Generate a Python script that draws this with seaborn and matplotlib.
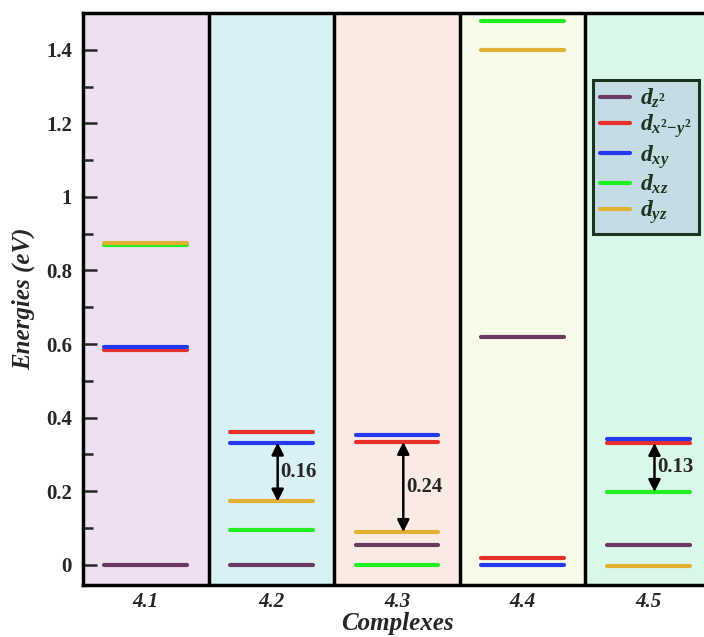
import numpy as np
import pandas as pd
import seaborn as sns
import matplotlib.pyplot as plt
from matplotlib.ticker import MultipleLocator, FuncFormatter

# datos
complexes = ["4.1", "4.2", "4.3", "4.4", "4.5"]
orbitals = ["dz2", "dx2y2", "dxy", "dxz", "dyz"]
orbital_labels = [r"$d_{z^2}$", r"$d_{x^2{-}y^2}$", r"$d_{xy}$", r"$d_{xz}$", r"$d_{yz}$"]
e_dz2 = [0.0, 0.0, 0.055, 0.62, 0.054]
e_dx2y2 = [0.583, 0.362, 0.334, 0.018, 0.331]
e_dxy = [0.592, 0.332, 0.353, 0.0, 0.342]
e_dxz = [0.869, 0.095, 0.0, 1.479, 0.198]
e_dyz = [0.876, 0.172, 0.089, 1.40, -0.004]

# gaps marcados con flechas
gap_complex = ["4.2", "4.3", "4.5"]
gap_upper = ["dxy", "dx2y2", "dx2y2"]
gap_lower = ["dyz", "dyz", "dxz"]
gap_labels = ["0.16", "0.24", "0.13"]

colors = ["#6b3a63", "#e8302a", "#2438ee", "#22ee22", "#e2b032"]
panel_colors = ["#eee0f2", "#d9f1f4", "#f9ebe4", "#f7fbe7", "#d9f8ea"]

energies = {"dz2": e_dz2, "dx2y2": e_dx2y2, "dxy": e_dxy, "dxz": e_dxz, "dyz": e_dyz}
half = 0.33

rows = []
for orb, lab in zip(orbitals, orbital_labels):
    for i, c in enumerate(complexes):
        for dx in (-half, half):
            rows.append({"x": i + dx, "E": energies[orb][i], "orbital": lab, "complex": c})
df = pd.DataFrame(rows)

sns.set_theme(style="ticks")
plt.rcParams["font.family"] = ["Liberation Serif", "DejaVu Serif"]
plt.rcParams["font.weight"] = "bold"
plt.rcParams["mathtext.fontset"] = "custom"
plt.rcParams["mathtext.it"] = "Liberation Serif:bold:italic"
plt.rcParams["mathtext.rm"] = "Liberation Serif:bold"
plt.rcParams["mathtext.bf"] = "Liberation Serif:bold"

fig = plt.figure(figsize=(7.04, 6.37), dpi=100)
ax = fig.add_axes([83 / 704, 52 / 637, 628 / 704, 572 / 637])

for i, pc in enumerate(panel_colors):
    ax.axvspan(i - 0.5, i + 0.5, color=pc, zorder=0, lw=0)
for i in range(len(complexes) - 1):
    ax.axvline(i + 0.5, color="black", lw=2.5, zorder=1)

sns.lineplot(data=df, x="x", y="E", hue="orbital", units="complex", estimator=None,
             palette=colors, lw=3, ax=ax, zorder=3)

for c, up, lo, txt in zip(gap_complex, gap_upper, gap_lower, gap_labels):
    i = complexes.index(c)
    top = energies[up][i]
    bot = energies[lo][i]
    xa = i + 0.05
    ax.annotate("", xy=(xa, bot), xytext=(xa, top),
                arrowprops=dict(arrowstyle="<|-|>", color="black", lw=1.8,
                                shrinkA=0, shrinkB=0, mutation_scale=18), zorder=4)
    ax.text(xa + 0.02, (top + bot) / 2, txt, ha="left", va="center",
            fontsize=15, fontweight="bold", zorder=5)

ax.set_xlim(-0.5, 4.5)
ax.set_ylim(-0.055, 1.5)
ax.set_xticks(range(len(complexes)))
ax.set_xticklabels(complexes, fontsize=15, fontweight="bold", fontstyle="italic")
ax.tick_params(axis="x", length=0, pad=5)
ax.yaxis.set_major_locator(MultipleLocator(0.2))
ax.yaxis.set_minor_locator(MultipleLocator(0.1))
ax.yaxis.set_major_formatter(FuncFormatter(lambda v, p: f"{v:g}" if abs(v) > 1e-9 else "0"))
ax.tick_params(axis="y", which="major", direction="in", length=10, width=1.8, labelsize=15, pad=8)
ax.tick_params(axis="y", which="minor", direction="in", length=7, width=1.8)
for lbl in ax.get_yticklabels():
    lbl.set_fontweight("bold")

for s in ax.spines.values():
    s.set_linewidth(2.5)
    s.set_color("black")

ax.set_xlabel("Complexes", fontsize=18, fontweight="bold", fontstyle="italic", labelpad=0)
ax.set_ylabel("Energies (eV)", fontsize=18, fontweight="bold", fontstyle="italic", labelpad=8)

handles, labels = ax.get_legend_handles_labels()
leg = ax.legend(handles, labels, loc="upper left", bbox_to_anchor=(0.812, 0.883),
                borderaxespad=0, fontsize=17, frameon=True, fancybox=False, framealpha=1,
                facecolor="#c5dce5", edgecolor="#1c3322", handlelength=1.25,
                labelspacing=0.1, borderpad=0.3, handletextpad=0.45)
leg.get_frame().set_linewidth(2.2)
for t in leg.get_texts():
    t.set_color("#1c3322")
for h in leg.get_lines():
    h.set_linewidth(3)

fig.savefig("out.png", dpi=100)
